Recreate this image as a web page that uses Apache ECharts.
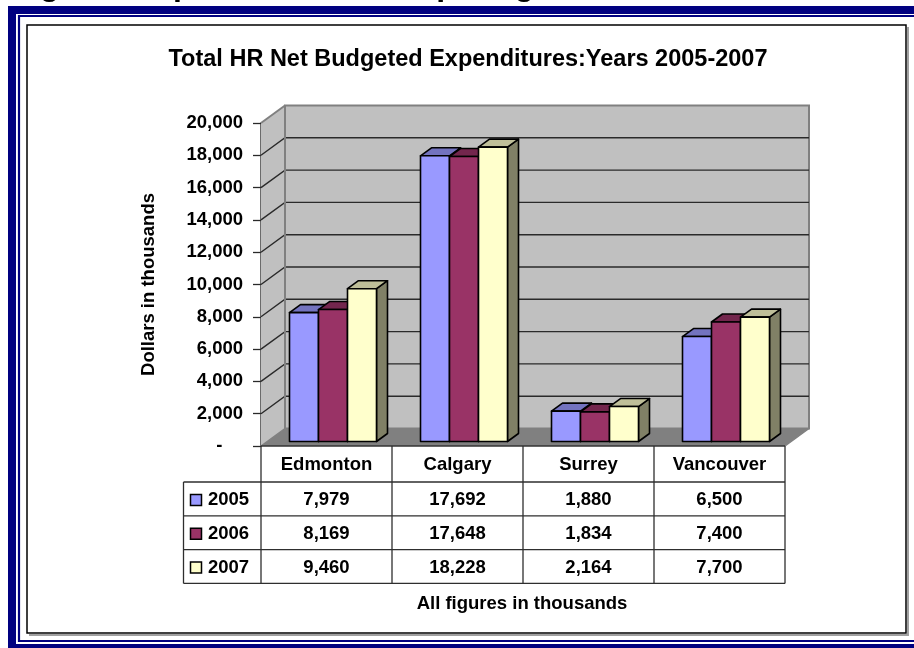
<!DOCTYPE html>
<html>
<head>
<meta charset="utf-8">
<script src="https://cdn.jsdelivr.net/npm/echarts@6/dist/echarts.min.js"></script>
<style>
  html, body { margin: 0; padding: 0; background: #ffffff; }
  #chart { width: 914px; height: 648px; }
</style>
</head>
<body>
<div id="chart"></div>
<script>
// ---- data ----
const cities = ['Edmonton', 'Calgary', 'Surrey', 'Vancouver'];
const years = ['2005', '2006', '2007'];
const values2005 = [7979, 17692, 1880, 6500];
const values2006 = [8169, 17648, 1834, 7400];
const values2007 = [9460, 18228, 2164, 7700];
const yMin = 0;
const yMax = 20000;
const yStep = 2000;

const chartTitle = 'Total HR Net Budgeted Expenditures:Years 2005-2007';
const yAxisTitle = 'Dollars in thousands';
const footNote = 'All figures in thousands';
const pageHeading = 'Net Budgeted Expenditures - Comparing';

// ---- styling ----
const FONT = '"Liberation Sans", Arial, sans-serif';
const faceColors = ['#9999ff', '#993366', '#ffffcc'];
const topColors  = ['#7373bf', '#73264d', '#bfbf99'];
const sideColors = ['#4d4d80', '#4d1a33', '#808066'];

// oblique projection of the 3D box
const WALL_DX = 24, WALL_DY = -17.5;     // full depth of the plot box
const BAR_OFF_DX = 6.5, BAR_OFF_DY = -4.5; // bars sit slightly back from the front plane
const BAR_DX = 11, BAR_DY = -8;          // depth of each column
const GROUP_FRAC = 87 / 131;             // share of a category band used by the columns

// data table geometry
const HEADER_H = 36;
const ROW_H = 33.8;
const LEGEND_W = 77.5;
const TABLE_LINE = '#2e2e2e';

const seriesValues = [values2005, values2006, values2007];
const fmt = v => v.toLocaleString('en-US');

function wallsRender(params, api) {
  const cs = params.coordSys;
  const x0 = cs.x, x1 = cs.x + cs.width;
  const yb = api.coord([0, yMin])[1];
  const yt = api.coord([0, yMax])[1];
  const kids = [];
  // left side wall
  kids.push({ type: 'polygon', shape: { points: [[x0, yt], [x0 + WALL_DX, yt + WALL_DY], [x0 + WALL_DX, yb + WALL_DY], [x0, yb]] },
    style: { fill: '#c0c0c0', stroke: null } });
  // back wall
  kids.push({ type: 'rect', shape: { x: x0 + WALL_DX, y: yt + WALL_DY, width: cs.width, height: yb - yt },
    style: { fill: '#c0c0c0', stroke: '#808080', lineWidth: 2 } });
  // floor
  kids.push({ type: 'polygon', shape: { points: [[x0, yb], [x1, yb], [x1 + WALL_DX, yb + WALL_DY], [x0 + WALL_DX, yb + WALL_DY]] },
    style: { fill: '#808080', stroke: null } });
  // gridlines on back and side walls
  for (let v = yMin + yStep; v < yMax; v += yStep) {
    const y = api.coord([0, v])[1];
    kids.push({ type: 'polyline', shape: { points: [[x0, y], [x0 + WALL_DX, y + WALL_DY], [x1 + WALL_DX, y + WALL_DY]] },
      style: { stroke: '#2a2a2a', lineWidth: 1.4, fill: null } });
  }
  // wall edges
  kids.push({ type: 'line', shape: { x1: x0, y1: yt, x2: x0 + WALL_DX, y2: yt + WALL_DY }, style: { stroke: '#808080', lineWidth: 2 } });
  kids.push({ type: 'line', shape: { x1: x0, y1: yb, x2: x0 + WALL_DX, y2: yb + WALL_DY }, style: { stroke: '#808080', lineWidth: 1.5 } });
  kids.push({ type: 'line', shape: { x1: x1, y1: yb, x2: x1 + WALL_DX, y2: yb + WALL_DY }, style: { stroke: '#808080', lineWidth: 1.5 } });
  kids.push({ type: 'line', shape: { x1: x0 + WALL_DX, y1: yt + WALL_DY, x2: x0 + WALL_DX, y2: yb + WALL_DY }, style: { stroke: '#808080', lineWidth: 2 } });
  // front edge of the floor
  kids.push({ type: 'line', shape: { x1: x0, y1: yb, x2: x1, y2: yb }, style: { stroke: '#333333', lineWidth: 1.4 } });
  return { type: 'group', children: kids };
}

function makeBarRender(sIdx) {
  return function (params, api) {
    const ci = api.value(0);
    const v = api.value(1);
    const base = api.coord([ci, yMin]);
    const top = api.coord([ci, v]);
    const band = api.size([1, 0])[0];
    const bw = band * GROUP_FRAC / 3;
    const left = base[0] - band * GROUP_FRAC / 2 + sIdx * bw + BAR_OFF_DX;
    const right = left + bw;
    const yB = base[1] + BAR_OFF_DY;
    const yT = top[1] + BAR_OFF_DY;
    const line = { stroke: '#000000', lineWidth: 1.6, lineJoin: 'round' };
    return {
      type: 'group',
      children: [
        { type: 'polygon', shape: { points: [[right, yT], [right + BAR_DX, yT + BAR_DY], [right + BAR_DX, yB + BAR_DY], [right, yB]] },
          style: Object.assign({ fill: sideColors[sIdx] }, line) },
        { type: 'polygon', shape: { points: [[left, yT], [right, yT], [right + BAR_DX, yT + BAR_DY], [left + BAR_DX, yT + BAR_DY]] },
          style: Object.assign({ fill: topColors[sIdx] }, line) },
        { type: 'rect', shape: { x: left, y: yT, width: bw, height: yB - yT },
          style: Object.assign({ fill: faceColors[sIdx] }, line) }
      ]
    };
  };
}

function tableText(text, x, y, align) {
  return { type: 'text', style: { text: text, x: x, y: y, align: align, verticalAlign: 'middle',
    textAlign: align, textVerticalAlign: 'middle', font: 'bold 18.5px ' + FONT, fill: '#000000' } };
}
function tableLine(xa, ya, xb, yb) {
  return { type: 'line', shape: { x1: xa, y1: ya, x2: xb, y2: yb }, style: { stroke: TABLE_LINE, lineWidth: 1.3 } };
}

function tableRender(params, api) {
  const ci = api.value(0);
  const base = api.coord([ci, yMin]);
  const band = api.size([1, 0])[0];
  const colL = base[0] - band / 2, colR = base[0] + band / 2;
  const yTop = base[1];
  const rowTop = k => yTop + HEADER_H + k * ROW_H;
  const yEnd = rowTop(years.length);
  const kids = [];
  kids.push(tableText(cities[ci], base[0], yTop + HEADER_H / 2 + 1, 'center'));
  years.forEach((yr, k) => {
    kids.push(tableText(fmt(seriesValues[k][ci]), base[0], rowTop(k) + ROW_H / 2 + 1, 'center'));
  });
  kids.push(tableLine(colL, yTop, colL, yEnd));
  if (ci === cities.length - 1) kids.push(tableLine(colR, yTop, colR, yEnd));
  for (let k = 0; k <= years.length; k++) kids.push(tableLine(colL, rowTop(k), colR, rowTop(k)));
  if (ci === 0) {
    // legend column of the table
    const lx = colL - LEGEND_W;
    kids.push(tableLine(lx, rowTop(0), lx, yEnd));
    for (let k = 0; k <= years.length; k++) kids.push(tableLine(lx, rowTop(k), colL, rowTop(k)));
    years.forEach((yr, k) => {
      const cy = rowTop(k) + ROW_H / 2 + 1;
      kids.push({ type: 'rect', shape: { x: lx + 7, y: cy - 5.5, width: 11, height: 11 },
        style: { fill: faceColors[k], stroke: '#000000', lineWidth: 1.5 } });
      kids.push(tableText(yr, lx + 24.5, cy, 'left'));
    });
  }
  return { type: 'group', children: kids };
}

const chart = echarts.init(document.getElementById('chart'), null, { renderer: 'canvas' });

const option = {
  backgroundColor: '#ffffff',
  animation: false,
  textStyle: { fontFamily: FONT },
  grid: { left: 261, top: 123, width: 524, height: 323, containLabel: false },
  xAxis: {
    type: 'category',
    data: cities,
    axisLine: { show: false },
    axisTick: { show: false },
    axisLabel: { show: false },
    splitLine: { show: false }
  },
  yAxis: {
    type: 'value',
    min: yMin,
    max: yMax,
    interval: yStep,
    name: yAxisTitle,
    nameLocation: 'middle',
    nameGap: 103,
    nameTextStyle: { fontFamily: FONT, fontWeight: 'bold', fontSize: 18.5, color: '#000000' },
    axisLine: { show: true, lineStyle: { color: '#3a3a3a', width: 1.5 } },
    axisTick: { show: true, inside: false, length: 8, lineStyle: { color: '#2a2a2a', width: 1.3 } },
    axisLabel: {
      margin: 18,
      fontFamily: FONT, fontWeight: 'bold', fontSize: 18.5, color: '#000000',
      formatter: v => (v === 0 ? '-    ' : fmt(v))
    },
    splitLine: { show: false }
  },
  series: [
    { type: 'custom', name: 'walls', silent: true, z: 1, data: [[0, 0]], renderItem: wallsRender },
    ...years.map((yr, s) => ({
      type: 'custom', name: yr, z: 3,
      data: seriesValues[s].map((v, i) => [i, v]),
      renderItem: makeBarRender(s)
    })),
    { type: 'custom', name: 'table', silent: true, z: 4, data: cities.map((c, i) => [i, 0]), renderItem: tableRender }
  ],
  graphic: [
    // page heading running off the top edge
    { type: 'text', x: 534, y: -13.5, z: 10,
      style: { text: pageHeading, align: 'right', verticalAlign: 'middle', font: 'bold 32px ' + FONT, fill: '#000000' } },
    // double navy page frame
    { type: 'rect', z: 10, shape: { x: 12, y: 10, width: 1000, height: 638 },
      style: { fill: null, stroke: '#000080', lineWidth: 8 } },
    { type: 'rect', z: 10, shape: { x: 19, y: 16, width: 1000, height: 625 },
      style: { fill: null, stroke: '#000080', lineWidth: 2.2 } },
    // chart area frame with shadow
    { type: 'polyline', z: 10, shape: { points: [[908, 27], [908, 635], [29, 635]] },
      style: { fill: null, stroke: '#a0a0a0', lineWidth: 2 } },
    { type: 'rect', z: 10, shape: { x: 27, y: 25, width: 879, height: 608 },
      style: { fill: null, stroke: '#000000', lineWidth: 1.5 } },
    // chart title
    { type: 'text', x: 468, y: 60, z: 10,
      style: { text: chartTitle, align: 'center', verticalAlign: 'middle', font: 'bold 23.5px ' + FONT, fill: '#000000' } },
    // note under the data table
    { type: 'text', x: 522, y: 604, z: 10,
      style: { text: footNote, align: 'center', verticalAlign: 'middle', font: 'bold 18.5px ' + FONT, fill: '#000000' } }
  ]
};

chart.setOption(option);
</script>
</body>
</html>
